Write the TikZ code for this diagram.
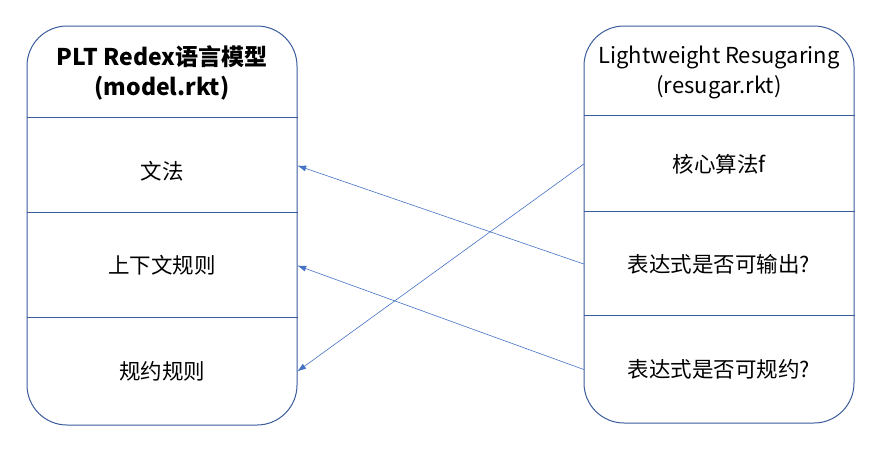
\documentclass[tikz,border=0pt]{standalone}
\usepackage{fontspec}
\setmainfont{Noto Sans CJK SC}
\usetikzlibrary{arrows.meta, positioning}
\definecolor{boxblue}{HTML}{3A5C9C}
\definecolor{arrowblue}{HTML}{4472C4}

\begin{document}
\begin{tikzpicture}[
    x=1pt, y=-1pt,
    box/.style={rectangle, draw=boxblue, line width=1pt, rounded corners=40pt, minimum width=270pt, inner sep=0pt},
    cell/.style={rectangle, minimum width=270pt, inner sep=0pt, text centered, font=\fontsize{21.5}{28}\selectfont},
    title/.style={cell, align=center, font=\fontsize{22}{30}\selectfont},
    divider/.style={draw=boxblue, line width=0.8pt},
    line/.style={draw=arrowblue, line width=0.6pt, -{Latex[length=9pt, width=6pt]}}
]
    \useasboundingbox (0,0) rectangle (886,459);

    % Outer boxes
    \node [box, minimum height=399pt] (lbox) at (162,225.5) {};
    \node [box, minimum height=397pt] (rbox) at (719,224.5) {};

    % Left cells
    \node [title, font=\bfseries\fontsize{23}{30}\selectfont] (lhead) at (162,73) {PLT Redex语言模型\\(model.rkt)};
    \node [cell, minimum height=95pt, text height=30pt, text depth=2.5pt] (lgram) at (162,165.5) {文法};
    \node [cell, minimum height=105pt] (lctx) at (162,265.5) {上下文规则};
    \node [cell, minimum height=107pt] (lred) at (162,371.5) {规约规则};

    % Right cells
    \node [title] (rhead) at (719,72) {Lightweight Resugaring\\(resugar.rkt)};
    \node [cell, minimum height=96pt] (rcore) at (719,164) {核心算法f};
    \node [cell, minimum height=104pt] (rout) at (719,264) {表达式是否可输出?};
    \node [cell, minimum height=107pt] (rredc) at (719,369.5) {表达式是否可规约?};

    % Dividers
    \foreach \c in {lgram, lctx, lred} {
        \path [divider] (lbox.west |- \c.north) -- (lbox.east |- \c.north);
    }
    \foreach \c in {rcore, rout, rredc} {
        \path [divider] (rbox.west |- \c.north) -- (rbox.east |- \c.north);
    }

    % Edges
    \path [line] (rcore.west) -- (lred.east);
    \path [line] (rout.west) -- (lgram.east);
    \path [line] (rredc.west) -- (lctx.east);
\end{tikzpicture}
\end{document}
